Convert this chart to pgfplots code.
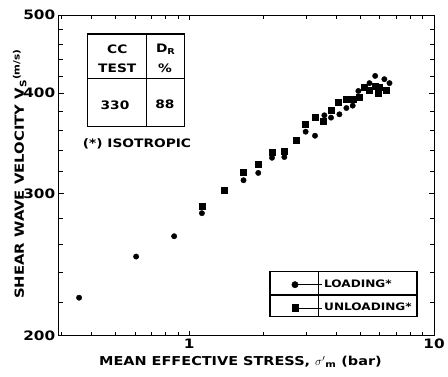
\documentclass[border=0pt]{standalone}
\usepackage{fontspec}
\setmainfont{DejaVu Sans}[FakeStretch=1.18]
\usepackage{pgfplots}
\pgfplotsset{compat=1.18}
\pgfplotstableread{
x y
0.355 222.9
0.607 250.7
0.868 265.7
1.127 283.8
1.667 311.8
1.915 318.4
2.179 332.5
2.447 333.2
2.99 358.2
3.266 354.1
3.565 375.4
3.796 372.9
4.107 376.5
4.386 383.3
4.655 385.9
4.91 402.4
5.45 411.5
5.75 420.1
6.27 416.2
6.58 411.5
}\loading
\pgfplotstableread{
x y
1.127 289.2
1.394 303.1
1.667 319.3
1.915 326.7
2.179 338.3
2.447 339.0
2.748 349.4
2.99 366.5
3.266 373.3
3.542 369.1
3.796 380.4
4.057 389.6
4.386 393.3
4.655 393.3
4.96 395.6
5.20 406.8
5.46 403.5
5.77 408.3
5.99 406.3
5.93 399.7
6.38 403.5
}\unloading
\begin{document}
\begin{tikzpicture}
\begin{axis}[
  scale only axis, width=375.3bp, height=320.7bp,
  xmode=log, ymode=log,
  xmin=0.293, xmax=10, ymin=200, ymax=500,
  xtick={1,10}, xticklabels={1,10},
  minor xtick={0.3,0.4,0.5,0.6,0.7,0.8,0.9,2,3,4,5,6,7,8,9},
  ytick={200,300,400,500}, yticklabels={200,300,400,500},
  minor ytick={220,240,260,280,320,340,360,380,420,440,460,480},
  tick align=inside, major tick length=5bp, minor tick length=4bp,
  tick style={black, line width=0.6bp},
  axis line style={line width=0.9bp},
  ticklabel style={font=\fontsize{13}{13}\selectfont\bfseries},
  xlabel={MEAN EFFECTIVE STRESS, $\sigma'$\textsubscript{m} (bar)},
  xlabel style={font=\fontsize{12.3}{12.3}\selectfont\bfseries, at={(axis description cs:0.4844,0)}, anchor=base, yshift=-30.3bp},
  ylabel={SHEAR WAVE VELOCITY V\textsubscript{S}\textsuperscript{(m/s)}},
  ylabel style={font=\fontsize{12.6}{12.6}\selectfont\bfseries, at={(axis description cs:0,0.504)}, anchor=base, yshift=34.7bp},
  legend style={at={(rel axis cs:0.620,0.180)}, anchor=north west, draw=none, fill=none, inner sep=0pt,
    font=\fontsize{10.3}{10.3}\selectfont\bfseries, row sep=10bp, column sep=0pt},
  legend image code/.code={\path (-3.2bp,0bp) -- (27bp,0bp); \draw[#1] plot coordinates {(0bp,0bp)};},
  legend image post style={mark size=3.2bp},
  legend cell align=left,
  clip=false,
]
\addplot[only marks, mark=*, mark size=2.7bp, black] table[x=x,y=y]{\loading};
\addlegendentry{LOADING*}
\addplot[only marks, mark=square*, mark size=3bp, black] table[x=x,y=y]{\unloading};
\addlegendentry{UNLOADING*}
% table box
\draw[line width=1.1bp] (rel axis cs:0.0762,0.6517) rectangle (rel axis cs:0.3347,0.9408);
\draw[line width=1.1bp] (rel axis cs:0.2345,0.6517) -- (rel axis cs:0.2345,0.9408);
\draw[line width=1.1bp] (rel axis cs:0.0762,0.8026) -- (rel axis cs:0.3347,0.8026);
\begin{scope}[every node/.style={font=\fontsize{11.7}{11.7}\selectfont\bfseries, inner sep=0pt}]
\node at (rel axis cs:0.1561,0.8931) {CC};
\node at (rel axis cs:0.1561,0.8338) {TEST};
\node at (rel axis cs:0.2851,0.8931) {D\textsubscript{R}};
\node at (rel axis cs:0.2832,0.8338) {\%};
\node at (rel axis cs:0.15,0.7194) {330};
\node at (rel axis cs:0.2832,0.7225) {88};
\node at (rel axis cs:0.2086,0.5979) {(*) ISOTROPIC};
\end{scope}
% legend box
\draw[line width=1.1bp] (rel axis cs:0.5630,0.0592) rectangle (rel axis cs:0.9547,0.1996);
\draw[line width=1.1bp] (rel axis cs:0.6918,0.0592) -- (rel axis cs:0.6918,0.1996);
\draw[line width=1.1bp] (rel axis cs:0.5630,0.1269) -- (rel axis cs:0.9547,0.1269);
\coordinate (bl) at (rel axis cs:0,0);
\coordinate (tr) at (rel axis cs:1,1);
\end{axis}
\pgfresetboundingbox
\path ([shift={(-58.7bp,-41.3bp)}]bl) rectangle ([shift={(14bp,15bp)}]tr);
\end{tikzpicture}
\end{document}
